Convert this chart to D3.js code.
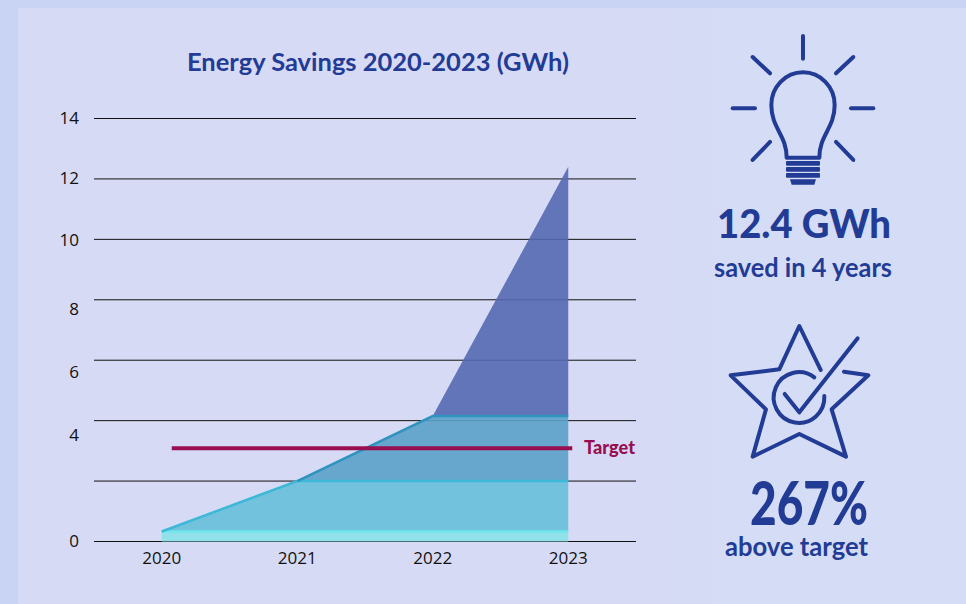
<!DOCTYPE html>
<html>
<head>
<meta charset="utf-8">
<script src="https://cdnjs.cloudflare.com/ajax/libs/d3/7.8.5/d3.min.js"></script>
<style>
  html, body { margin: 0; padding: 0; background: #c9d3f3; overflow: hidden; }
  svg { display: block; }
  text { font-family: Lato, "Open Sans", sans-serif; }
  .tick text { font-family: "Open Sans", sans-serif; font-size: 17px; fill: #111; }
</style>
</head>
<body>
<svg id="chart" width="966" height="604">
  <defs>
    <linearGradient id="panelFill" x1="0" x2="1" y1="0" y2="0">
      <stop offset="0.66" stop-color="#d7daf5"></stop>
      <stop offset="0.76" stop-color="#d5dcf5"></stop>
    </linearGradient>
  </defs>
</svg>
<script>
// Data
const years = ["2020", "2021", "2022", "2023"];
const layerOne = [0.33, 0.33, 0.33, 0.33];
const layerTwo = [0, 1.67, 1.67, 1.67];
const layerThree = [0, 0, 2.15, 2.15];
const layerFour = [0, 0, 0, 8.25];
const yTicks = [0, 2, 4, 6, 8, 10, 12, 14];
const hiddenTickLabels = [2];
const targetValue = 3.09;

const fillColors = ["#88e1e9", "#67bfdb", "#5ba1c9", "#5569b2"];
const lineColors = ["#6fe6ea", "#3db8d8", "#2e94bf", null];
const blue = "#223c96";

// Layout
const plotLeft = 94, plotRight = 636, plotTop = 118.5, plotBottom = 541.5;

const svg = d3.select("#chart");

// Panel behind the chart
svg.append("rect").attr("x", 18).attr("y", 8).attr("width", 948).attr("height", 596).attr("fill", "url(#panelFill)");

const x = d3.scalePoint().domain(years).range([plotLeft, plotRight]).padding(0.5);
const y = d3.scaleLinear().domain([0, 14]).range([plotBottom, plotTop]);

// Left axis with gridlines
const labelNudge = { 10: 1, 8: 10, 6: 12, 4: 15 };
const yAxis = svg.append("g")
    .attr("transform", `translate(${plotLeft},0)`)
    .call(d3.axisLeft(y)
        .tickValues(yTicks)
        .tickSize(-(plotRight - plotLeft))
        .tickPadding(15)
        .offset(0)
        .tickFormat(d => hiddenTickLabels.includes(d) ? "" : d));
yAxis.select(".domain").remove();
yAxis.selectAll(".tick line").attr("stroke", "#111");
yAxis.selectAll(".tick text").attr("y", d => labelNudge[d] || 0);

// Stacked areas
const rows = years.map((year, i) => ({
    year,
    a: layerOne[i], b: layerTwo[i], c: layerThree[i], d: layerFour[i]
}));
const stacked = d3.stack().keys(["a", "b", "c", "d"])(rows);

const area = d3.area()
    .x(d => x(d.data.year))
    .y0(d => y(d[0]))
    .y1(d => y(d[1]));

svg.append("g").selectAll("path")
    .data(stacked)
    .enter()
    .append("path")
    .attr("d", area)
    .attr("fill", (d, i) => fillColors[i])
    .attr("fill-opacity", 0.9);

// Lighter edge along the top of each layer, from where the layer begins
const firstIndex = [0, 0, 1];
firstIndex.forEach((first, layer) => {
    const topLine = d3.line()
        .defined((d, i) => i >= first)
        .x(d => x(d.data.year))
        .y(d => y(d[1]));
    svg.append("path")
        .attr("d", topLine(stacked[layer]))
        .attr("fill", "none")
        .attr("stroke", lineColors[layer])
        .attr("stroke-width", 2.5);
});

// Target line
svg.append("line")
    .attr("x1", x("2020") + 10)
    .attr("x2", x("2023") + 4)
    .attr("y1", y(targetValue))
    .attr("y2", y(targetValue))
    .attr("stroke", "#970f50")
    .attr("stroke-width", 4);

svg.append("text")
    .attr("x", 584)
    .attr("y", y(targetValue))
    .attr("dy", "0.33em")
    .attr("font-size", 19)
    .attr("font-weight", 900)
    .attr("fill", "#970f50")
    .attr("textLength", 51)
    .attr("lengthAdjust", "spacingAndGlyphs")
    .text("Target");

// Bottom axis
const xAxis = svg.append("g")
    .attr("transform", `translate(0,${plotBottom})`)
    .call(d3.axisBottom(x).tickSize(0).tickPadding(10).offset(0));
xAxis.select(".domain").remove();

// Title
svg.append("text")
    .attr("x", 378)
    .attr("y", 71)
    .attr("text-anchor", "middle")
    .attr("font-size", 24)
    .attr("font-weight", 700)
    .attr("fill", blue)
    .attr("textLength", 382)
    .attr("lengthAdjust", "spacingAndGlyphs")
    .text("Energy Savings 2020-2023 (GWh)");

// Light bulb icon, drawn in a 3x grid
const bulb = svg.append("g")
    .attr("transform", "translate(700,20) scale(0.3333)")
    .attr("fill", "none")
    .attr("stroke", blue)
    .attr("stroke-width", 12)
    .attr("stroke-linecap", "round")
    .attr("stroke-linejoin", "round");

const rays = [
    [309, 48, 309, 116], [158, 111, 210, 160], [460, 111, 408, 160],
    [98, 265, 165, 265], [453, 265, 520, 265],
    [210, 366, 158, 420], [408, 366, 460, 420]
];
bulb.selectAll("line")
    .data(rays)
    .enter()
    .append("line")
    .attr("x1", d => d[0]).attr("y1", d => d[1])
    .attr("x2", d => d[2]).attr("y2", d => d[3]);

bulb.append("path")
    .attr("d", "M260,413 L358,413 C358,345 404,325 404,255 A95,98 0 0 0 214,255 C214,325 260,345 260,413 Z");

bulb.selectAll("rect")
    .data([423, 441, 459])
    .enter()
    .append("rect")
    .attr("x", 258).attr("y", d => d)
    .attr("width", 102).attr("height", 14).attr("rx", 3)
    .attr("fill", blue).attr("stroke", "none");

bulb.append("path")
    .attr("d", "M270,478 L348,478 L343,494 L275,494 Z")
    .attr("fill", blue).attr("stroke", "none");

// Star icon, drawn in a 3x grid
const star = svg.append("g")
    .attr("transform", "translate(700,310) scale(0.3333)")
    .attr("fill", "none")
    .attr("stroke", blue)
    .attr("stroke-width", 12)
    .attr("stroke-linecap", "round")
    .attr("stroke-linejoin", "round");

star.append("path")
    .attr("d", "M362,180 L298,48 L238,178 L92,196 L198,298 L158,440 L298,372 L438,440 L395,298 L505,196 L432,185");
star.append("path")
    .attr("d", "M343,202 A76,76 0 1 0 373,258");
star.append("path")
    .attr("d", "M254,252 L298,307 L473,85");

// KPI text
const kpiText = [
    { text: "12.4 GWh", x: 717, y: 238, size: 39, weight: 900, width: 174 },
    { text: "saved in 4 years", x: 714, y: 277, size: 27, weight: 700, width: 178 },
    { text: "267%", x: 750, y: 525, size: 60, weight: 900, width: 118 },
    { text: "above target", x: 725, y: 556, size: 27, weight: 700, width: 143 }
];
svg.append("g").selectAll("text")
    .data(kpiText)
    .enter()
    .append("text")
    .attr("x", d => d.x)
    .attr("y", d => d.y)
    .attr("font-size", d => d.size)
    .attr("font-weight", d => d.weight)
    .attr("fill", blue)
    .attr("textLength", d => d.width)
    .attr("lengthAdjust", "spacingAndGlyphs")
    .text(d => d.text);
</script>
</body>
</html>
